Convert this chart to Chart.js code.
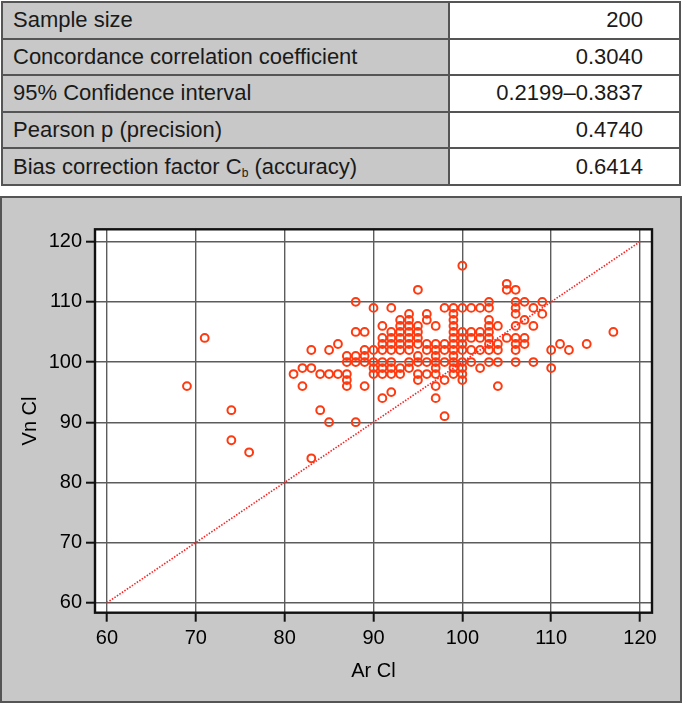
<!DOCTYPE html>
<html>
<head>
<meta charset="utf-8">
<script src="https://cdn.jsdelivr.net/npm/chart.js@4.4.0/dist/chart.umd.min.js"></script>
<style>
  html, body { margin: 0; padding: 0; background: #fff; }
  body { width: 682px; height: 703px; position: relative; overflow: hidden; font-family: 'Liberation Sans', Arial, sans-serif; }
  #stats { position: absolute; left: 1px; top: 1px; width: 680px; border-collapse: collapse; table-layout: fixed; font-size: 22px; color: #1a1a1a; }
  #stats tr { height: 36.6px; }
  #stats td { border: 2px solid #555; padding: 0 0 0 10px; white-space: nowrap; }
  #stats td.name { background: #c8c8c8; }
  #stats td.val { text-align: right; padding-right: 36px; background: #fff; }
  #stats sub { font-size: 12px; vertical-align: -3px; line-height: 0; }
  #panel { position: absolute; left: 0; top: 196px; width: 682px; height: 507px; box-sizing: border-box; border: 2px solid #555; background: #c8c8c8; }
  #chartBox { position: absolute; left: 0; top: 196px; width: 682px; height: 507px; }
</style>
</head>
<body>
<table id="stats">
  <colgroup><col style="width:447px"><col></colgroup>
  <tbody></tbody>
</table>
<div id="panel"></div>
<div id="chartBox"><canvas id="ccc" width="682" height="507"></canvas></div>
<script>
// summary table
const statNames = ['Sample size', 'Concordance correlation coefficient', '95% Confidence interval',
  'Pearson p (precision)', 'Bias correction factor C<sub>b</sub> (accuracy)'];
const statValues = ['200', '0.3040', '0.2199–0.3837', '0.4740', '0.6414'];

// scatter data, one line per Ar Cl value
const arCl = [
  69,
  71,
  74, 74,
  76,
  81,
  82, 82,
  83, 83, 83,
  84, 84,
  85, 85, 85,
  86, 86,
  87, 87, 87, 87, 87,
  88, 88, 88, 88, 88,
  89, 89, 89, 89, 89,
  90, 90, 90, 90, 90,
  91, 91, 91, 91, 91, 91, 91, 91,
  92, 92, 92, 92, 92, 92, 92, 92, 92,
  93, 93, 93, 93, 93, 93, 93, 93,
  94, 94, 94, 94, 94, 94, 94, 94, 94,
  95, 95, 95, 95, 95, 95, 95, 95, 95,
  96, 96, 96, 96, 96, 96,
  97, 97, 97, 97, 97, 97, 97, 97, 97,
  98, 98, 98, 98, 98, 98,
  99, 99, 99, 99, 99, 99, 99, 99, 99, 99, 99, 99,
  100, 100, 100, 100, 100, 100, 100, 100, 100, 100,
  101, 101, 101, 101, 101,
  102, 102, 102, 102, 102,
  103, 103, 103, 103, 103, 103, 103, 103, 103,
  104, 104, 104, 104, 104,
  105, 105, 105,
  106, 106, 106, 106, 106, 106, 106, 106, 106,
  107, 107, 107, 107,
  108, 108, 108,
  109, 109,
  110, 110,
  111,
  112,
  114,
  117
];
const vnCl = [
  96,
  104,
  92, 87,
  85,
  98,
  99, 96,
  102, 99, 84,
  98, 92,
  102, 98, 90,
  103, 98,
  101, 100, 98, 97, 96,
  110, 105, 101, 100, 90,
  105, 102, 101, 100, 96,
  109, 102, 100, 99, 98,
  106, 104, 103, 102, 100, 99, 98, 94,
  109, 105, 104, 103, 102, 100, 99, 98, 95,
  107, 106, 105, 104, 103, 102, 99, 98,
  108, 107, 106, 105, 104, 103, 102, 100, 99,
  112, 106, 105, 104, 103, 101, 100, 98, 97,
  108, 107, 103, 102, 100, 98,
  106, 103, 102, 101, 100, 99, 98, 96, 94,
  109, 103, 102, 100, 97, 91,
  109, 108, 107, 106, 105, 104, 103, 102, 101, 100, 99, 98,
  116, 109, 105, 104, 103, 102, 100, 99, 98, 97,
  109, 105, 104, 102, 100,
  109, 105, 104, 102, 99,
  110, 109, 107, 106, 105, 104, 103, 102, 100,
  106, 103, 102, 100, 96,
  113, 112, 104,
  112, 110, 109, 108, 106, 104, 103, 102, 100,
  110, 107, 104, 103,
  109, 106, 100,
  110, 108,
  102, 99,
  103,
  102,
  103,
  105
];
const lineOfEquality = [60, 120];
const tickValues = [60, 70, 80, 90, 100, 110, 120];

// fill table
const tbody = document.querySelector('#stats tbody');
statNames.forEach((name, i) => {
  const tr = document.createElement('tr');
  tr.innerHTML = '<td class="name">' + name + '</td><td class="val">' + statValues[i] + '</td>';
  tbody.appendChild(tr);
});

Chart.defaults.font.family = "'Liberation Sans', Arial, sans-serif";
Chart.defaults.color = '#000';

// white plot area + black frame
const plotFrame = {
  id: 'plotFrame',
  beforeDraw(chart) {
    const { ctx, chartArea: a } = chart;
    ctx.save();
    ctx.fillStyle = '#fff';
    ctx.fillRect(a.left, a.top, a.right - a.left, a.bottom - a.top);
    ctx.restore();
  },
  afterDraw(chart) {
    const { ctx, chartArea: a } = chart;
    ctx.save();
    ctx.strokeStyle = '#111';
    ctx.lineWidth = 2.4;
    ctx.strokeRect(a.left, a.top, a.right - a.left, a.bottom - a.top);
    ctx.restore();
  }
};

const gridStyle = {
  color: '#5c5c5c',
  lineWidth: 1.4,
  borderDash: [1.3, 1.5],
  tickLength: 9,
  tickColor: '#111',
  tickWidth: 2,
  tickBorderDash: []
};

new Chart(document.getElementById('ccc'), {
  type: 'scatter',
  data: {
    datasets: [{
      data: lineOfEquality.map(v => ({ x: v, y: v })),
      showLine: true,
      borderColor: '#ff2020',
      borderWidth: 1.6,
      borderDash: [1.5, 1.5],
      pointRadius: 0
    }, {
      data: arCl.map((x, i) => ({ x: x, y: vnCl[i] })),
      pointRadius: 3.9,
      pointBorderWidth: 2,
      pointBorderColor: '#ff3a10',
      pointBackgroundColor: 'rgba(0,0,0,0)'
    }]
  },
  options: {
    responsive: false,
    animation: false,
    layout: { autoPadding: false, padding: { top: 33.3, right: 30, left: 0, bottom: 0 } },
    plugins: { legend: { display: false }, tooltip: { enabled: false } },
    scales: {
      x: {
        min: 58.65, max: 121.35,
        afterFit: s => { s.height = 90.3; },
        afterBuildTicks: s => { s.ticks = tickValues.map(v => ({ value: v })); },
        grid: gridStyle,
        border: { display: false },
        ticks: { font: { size: 20, lineHeight: 1.2 }, padding: 5, maxRotation: 0 },
        title: { display: true, text: 'Ar Cl', font: { size: 20, lineHeight: 1.2 }, padding: { top: 0, bottom: 20 } }
      },
      y: {
        min: 58.34, max: 122.06,
        afterFit: s => { s.width = 95; },
        afterBuildTicks: s => { s.ticks = tickValues.map(v => ({ value: v })); },
        grid: gridStyle,
        border: { display: false },
        ticks: { font: { size: 20, lineHeight: 1.2 }, padding: 4 },
        title: { display: true, text: 'Vn Cl', font: { size: 20, lineHeight: 1.2 }, padding: { top: 18, bottom: 0 } }
      }
    }
  },
  plugins: [plotFrame]
});
</script>
</body>
</html>
